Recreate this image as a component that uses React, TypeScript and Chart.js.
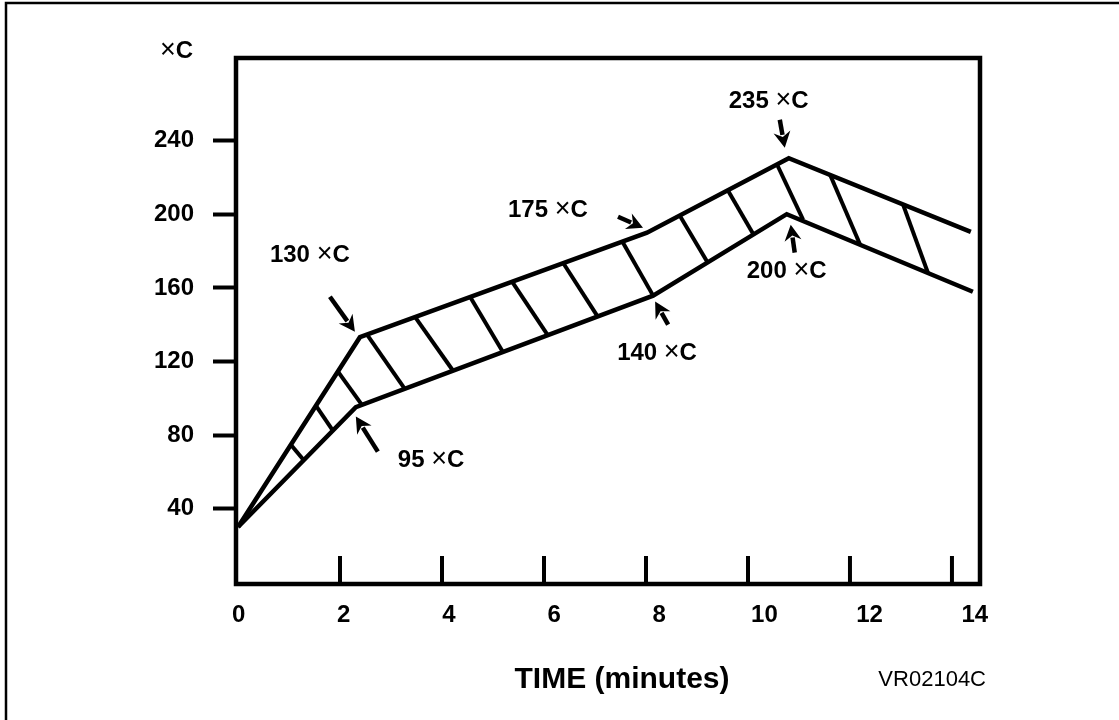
import React, { useEffect, useRef } from 'react';
import { Chart, registerables } from 'chart.js';

Chart.register(...registerables);

const FONT = '"Liberation Sans", Arial, Helvetica, sans-serif';

// Upper boundary of the band (temperature in °C vs time in minutes)
const UPPER_TIME = [0, 2.39, 8.02, 10.8, 14.37];
const UPPER_TEMP = [30, 133.2, 190.0, 230.5, 190.5];
// Lower boundary of the band
const LOWER_TIME = [0, 2.31, 8.14, 10.76, 14.41];
const LOWER_TEMP = [30, 95.2, 155.8, 200.1, 157.9];

// Hatch strokes joining the two boundaries
const HATCH_TOP_TIME = [1.04, 1.53, 1.96, 2.53, 3.47, 4.55, 5.37, 6.37, 7.53, 8.67, 9.61, 10.57, 11.61, 13.04];
const HATCH_TOP_TEMP = [74.6, 95.8, 114.5, 134.6, 144.2, 155.2, 163.6, 173.8, 185.5, 198.9, 212.8, 227.1, 221.5, 205.4];
const HATCH_BOTTOM_TIME = [1.29, 1.86, 2.43, 3.27, 4.22, 5.2, 6.08, 7.06, 8.14, 9.2, 10.1, 11.08, 12.2, 13.53];
const HATCH_BOTTOM_TEMP = [66.3, 82.4, 96.4, 105.1, 114.8, 124.9, 134.0, 144.1, 155.8, 174.2, 189.5, 197.1, 183.5, 168.1];

// Axis ticks
const Y_TICKS = [40, 80, 120, 160, 200, 240];
const X_TICK_LABELS = [0, 2, 4, 6, 8, 10, 12, 14];
const X_TICK_MARKS = [2, 4, 6, 8, 10, 12, 14];

// Callouts: value text, which boundary, which vertex
const CALLOUT_VALUES = ['130', '95', '175', '140', '235', '200'];
const CALLOUT_LINE = ['upper', 'lower', 'upper', 'lower', 'upper', 'lower'];
const CALLOUT_VERTEX = [1, 1, 2, 2, 3, 3];

const UNIT_TEXT = '×C';
const X_TITLE = 'TIME (minutes)';
const FIG_CODE = 'VR02104C';

// Pixel offsets (layout only) of callout labels and arrows relative to their vertex
const CALLOUT_LAYOUT = [
  { label: [-90, -75.5], tail: [-30, -40.5], head: [-5, -5.5] },
  { label: [42, 59.5], tail: [22, 44.5], head: [0, 9.5] },
  { label: [-139, -16], tail: [-29, -16], head: [-4, -5] },
  { label: [-36, 64], tail: [15, 29], head: [2, 6] },
  { label: [-60, -50.5], tail: [-9, -38.5], head: [-4, -10.5] },
  { label: [-40, 63.5], tail: [8, 38.5], head: [4, 10.5] },
];

function drawArrow(ctx: CanvasRenderingContext2D, x1: number, y1: number, x2: number, y2: number) {
  const ang = Math.atan2(y2 - y1, x2 - x1);
  const hl = 16;
  const hw = 8.5;
  const c = Math.cos(ang);
  const s = Math.sin(ang);
  const bx = x2 - hl * c;
  const by = y2 - hl * s;
  ctx.beginPath();
  ctx.moveTo(x1, y1);
  ctx.lineTo(bx + 3 * c, by + 3 * s);
  ctx.lineWidth = 4.5;
  ctx.lineCap = 'butt';
  ctx.stroke();
  ctx.beginPath();
  ctx.moveTo(x2, y2);
  ctx.lineTo(bx + hw * s, by - hw * c);
  ctx.lineTo(bx + 5 * c, by + 5 * s);
  ctx.lineTo(bx - hw * s, by + hw * c);
  ctx.closePath();
  ctx.fill();
}

function drawDegText(ctx: CanvasRenderingContext2D, prefix: string, x: number, y: number, size: number) {
  ctx.textAlign = 'left';
  ctx.textBaseline = 'alphabetic';
  let w = 0;
  if (prefix) {
    ctx.font = `bold ${size}px ${FONT}`;
    ctx.fillText(prefix + ' ', x, y);
    w += ctx.measureText(prefix + ' ').width;
  }
  ctx.font = `${size + 3}px ${FONT}`;
  ctx.fillText('×', x + w, y);
  w += ctx.measureText('×').width;
  ctx.font = `bold ${size}px ${FONT}`;
  ctx.fillText('C', x + w, y);
}

function degTextWidth(ctx: CanvasRenderingContext2D, size: number) {
  ctx.font = `${size + 3}px ${FONT}`;
  const a = ctx.measureText('×').width;
  ctx.font = `bold ${size}px ${FONT}`;
  return a + ctx.measureText('C').width;
}

const decorPlugin = {
  id: 'decor',
  afterDraw(chart: any) {
    const ctx: CanvasRenderingContext2D = chart.ctx;
    const { left, right, top, bottom } = chart.chartArea;
    const xs = chart.scales.x;
    const ys = chart.scales.y;
    ctx.save();
    ctx.strokeStyle = '#000';
    ctx.fillStyle = '#000';

    // outer frame (top and left edges)
    ctx.lineWidth = 2.5;
    ctx.beginPath();
    ctx.moveTo(6, chart.height);
    ctx.lineTo(6, 3);
    ctx.lineTo(chart.width, 3);
    ctx.stroke();

    // plot box
    ctx.lineWidth = 4.5;
    ctx.lineJoin = 'miter';
    ctx.strokeRect(left, top, right - left, bottom - top);

    // inward x tick marks
    ctx.lineWidth = 4;
    ctx.lineCap = 'butt';
    X_TICK_MARKS.forEach((v) => {
      const px = xs.getPixelForValue(v);
      ctx.beginPath();
      ctx.moveTo(px, bottom);
      ctx.lineTo(px, bottom - 28);
      ctx.stroke();
    });

    // callouts
    CALLOUT_VALUES.forEach((val, i) => {
      const isUpper = CALLOUT_LINE[i] === 'upper';
      const k = CALLOUT_VERTEX[i];
      const t = isUpper ? UPPER_TIME[k] : LOWER_TIME[k];
      const T = isUpper ? UPPER_TEMP[k] : LOWER_TEMP[k];
      const ax = xs.getPixelForValue(t);
      const ay = ys.getPixelForValue(T);
      const L = CALLOUT_LAYOUT[i];
      drawArrow(ctx, ax + L.tail[0], ay + L.tail[1], ax + L.head[0], ay + L.head[1]);
      drawDegText(ctx, val, ax + L.label[0], ay + L.label[1], 24);
    });

    // unit label on y axis
    const uw = degTextWidth(ctx, 24);
    drawDegText(ctx, '', left - 43 - uw, top, 24);

    // x axis title
    ctx.font = `bold 30px ${FONT}`;
    ctx.textAlign = 'center';
    ctx.textBaseline = 'alphabetic';
    ctx.fillText(X_TITLE, left + 386, bottom + 104);

    // figure code
    ctx.font = `22px ${FONT}`;
    ctx.textAlign = 'right';
    ctx.fillText(FIG_CODE, right + 6, bottom + 102);

    ctx.restore();
  },
};

export default function App() {
  const ref = useRef<HTMLCanvasElement | null>(null);

  useEffect(() => {
    if (!ref.current) return;
    const lineStyle = {
      borderColor: '#000',
      pointRadius: 0,
      pointHoverRadius: 0,
      fill: false,
      tension: 0,
      borderJoinStyle: 'miter' as const,
    };
    const datasets: any[] = [
      {
        ...lineStyle,
        label: 'upper',
        borderWidth: 4.5,
        data: UPPER_TIME.map((t, i) => ({ x: t, y: UPPER_TEMP[i] })),
      },
      {
        ...lineStyle,
        label: 'lower',
        borderWidth: 4.5,
        data: LOWER_TIME.map((t, i) => ({ x: t, y: LOWER_TEMP[i] })),
      },
    ];
    HATCH_TOP_TIME.forEach((t, i) => {
      datasets.push({
        ...lineStyle,
        label: 'hatch' + i,
        borderWidth: 4,
        borderCapStyle: 'butt',
        data: [
          { x: t, y: HATCH_TOP_TEMP[i] },
          { x: HATCH_BOTTOM_TIME[i], y: HATCH_BOTTOM_TEMP[i] },
        ],
      });
    });

    const chart = new Chart(ref.current, {
      type: 'line',
      data: { datasets },
      options: {
        animation: false,
        responsive: false,
        layout: { padding: { left: 0, right: 139, top: 58, bottom: 0 } },
        plugins: {
          legend: { display: false },
          tooltip: { enabled: false },
        },
        events: [],
        scales: {
          x: {
            type: 'linear',
            display: false,
            min: -0.04,
            max: 14.55,
          },
          x2: {
            type: 'linear',
            position: 'bottom',
            min: -0.05,
            max: 14.1,
            afterBuildTicks: (s: any) => {
              s.ticks = X_TICK_LABELS.map((v) => ({ value: v }));
            },
            afterFit: (s: any) => {
              s.height = 136;
            },
            grid: { display: false, drawOnChartArea: false, drawTicks: false },
            border: { display: false },
            ticks: {
              color: '#000',
              autoSkip: false,
              maxRotation: 0,
              padding: 17,
              font: { family: FONT, size: 24, weight: 'bold' },
              callback: (v: any) => String(v),
            },
          },
          y: {
            type: 'linear',
            min: -1,
            max: 285,
            afterBuildTicks: (s: any) => {
              s.ticks = Y_TICKS.map((v) => ({ value: v }));
            },
            afterFit: (s: any) => {
              s.width = 236;
            },
            grid: {
              drawOnChartArea: false,
              drawTicks: true,
              tickLength: 23,
              tickWidth: 4,
              tickColor: '#000',
              color: '#000',
            },
            border: { display: false },
            ticks: {
              color: '#000',
              autoSkip: false,
              padding: 19,
              font: { family: FONT, size: 24, weight: 'bold' },
              callback: (v: any) => String(v),
            },
          },
        },
      } as any,
      plugins: [decorPlugin],
    });
    return () => chart.destroy();
  }, []);

  return (
    <div style={{ position: 'absolute', left: 0, top: 0, width: 1119, height: 720, background: '#fff' }}>
      <canvas ref={ref} width={1119} height={720} style={{ width: 1119, height: 720, display: 'block' }} />
    </div>
  );
}
